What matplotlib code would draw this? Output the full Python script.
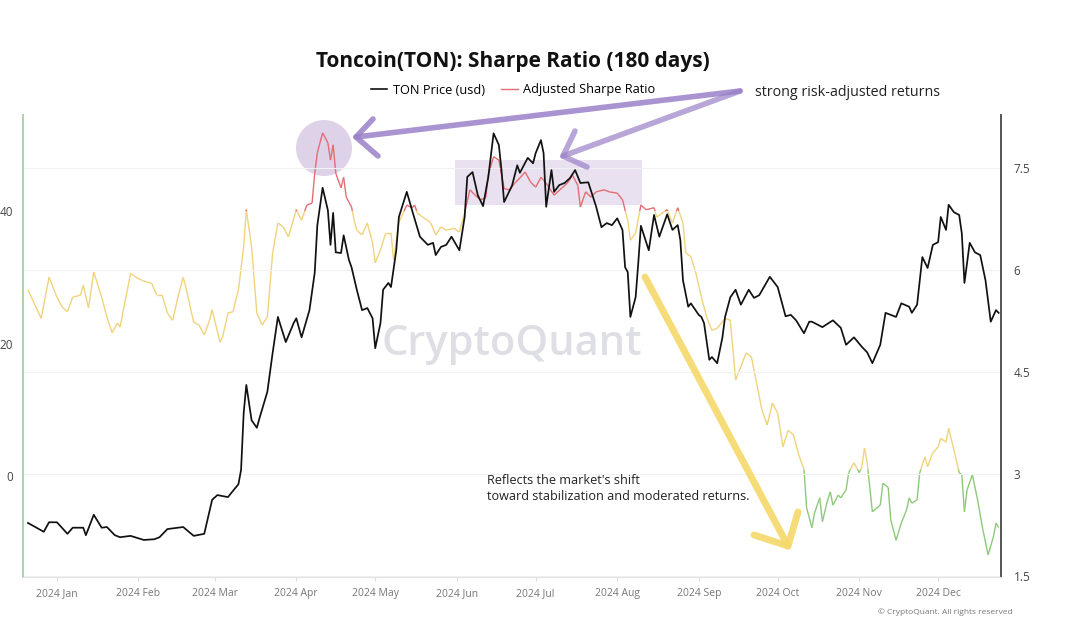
import matplotlib
matplotlib.use('Agg')
import matplotlib.pyplot as plt
import matplotlib.dates as mdates
from matplotlib.collections import LineCollection
from matplotlib.lines import Line2D
from matplotlib.patches import Ellipse, Rectangle
import numpy as np
import pandas as pd

plt.rcParams['font.family'] = ['Open Sans', 'DejaVu Sans']

# ---- data ----
BASE = pd.Timestamp('2024-01-01')

# days from 2024-01-01, TON price in usd
price_day = [-11, -5, -3, 0, 4, 6, 10, 11, 14, 17, 19, 22, 24, 28, 33, 37, 39, 42, 46, 48,
             52, 56, 59, 61, 65, 69, 70, 71, 72, 74, 76, 77, 80, 82, 84, 87, 90, 91, 93, 96,
             98, 99, 101, 103, 104, 105, 106, 108, 109, 111, 112, 114, 116, 118, 120, 121, 123, 124, 126, 127,
             129, 130, 133, 135, 138, 141, 143, 144, 146, 148, 150, 153, 155, 156, 158, 160, 162, 164, 166, 168,
             169, 170, 173, 175, 176, 179, 181, 182, 184, 185, 186, 188, 189, 191, 193, 195, 197, 199, 202, 205,
             207, 209, 211, 213, 215, 216, 217, 218, 220, 221, 222, 225, 227, 229, 232, 234, 236, 237, 238, 240,
             241, 244, 245, 246, 248, 249, 251, 253, 254, 256, 258, 260, 263, 265, 267, 271, 274, 277, 279, 281,
             284, 286, 287, 291, 295, 298, 300, 303, 306, 308, 310, 313, 315, 317, 319, 321, 324, 325, 327, 329,
             331, 333, 335, 336, 338, 339, 341, 343, 344, 345, 347, 349, 351, 353, 355, 357, 358]
price_usd = [2.28, 2.15, 2.29, 2.29, 2.12, 2.21, 2.21, 2.10, 2.40, 2.21, 2.22, 2.10, 2.07, 2.09, 2.03, 2.04, 2.07, 2.19, 2.21, 2.22,
             2.09, 2.12, 2.62, 2.69, 2.66, 2.85, 3.06, 3.90, 4.31, 3.79, 3.68, 3.82, 4.21, 4.78, 5.31, 4.94, 5.22, 5.29, 5.01, 5.41,
             5.96, 6.66, 7.21, 6.88, 6.37, 6.84, 6.26, 6.25, 6.51, 6.15, 6.04, 5.71, 5.41, 5.44, 5.29, 4.85, 5.22, 5.71, 5.81, 5.75,
             6.29, 6.78, 7.15, 6.88, 6.49, 6.37, 6.40, 6.22, 6.34, 6.37, 6.49, 6.29, 6.78, 7.37, 7.44, 7.10, 6.94, 7.37, 8.01, 7.84,
             7.47, 7.00, 7.24, 7.54, 7.43, 7.65, 7.57, 7.72, 7.91, 7.72, 6.93, 7.47, 7.15, 7.25, 7.28, 7.35, 7.47, 7.28, 7.29, 6.93,
             6.63, 6.69, 6.66, 6.76, 6.59, 6.04, 5.97, 5.31, 5.60, 6.10, 6.65, 6.29, 6.81, 6.49, 6.82, 6.59, 6.66, 6.44, 5.85, 5.46,
             5.51, 5.34, 5.31, 5.22, 4.68, 4.72, 4.63, 5.01, 5.31, 5.60, 5.71, 5.49, 5.71, 5.59, 5.63, 5.90, 5.75, 5.32, 5.34, 5.26,
             5.07, 5.24, 5.24, 5.16, 5.26, 5.15, 4.90, 5.01, 4.87, 4.79, 4.63, 4.90, 5.37, 5.34, 5.31, 5.51, 5.46, 5.37, 5.49, 6.19,
             6.03, 6.37, 6.41, 6.78, 6.59, 6.96, 6.85, 6.81, 6.54, 5.81, 6.40, 6.26, 6.22, 5.85, 5.24, 5.41, 5.37]

# days from 2024-01-01, adjusted sharpe ratio
sharpe_day = [-11, -6, -3, 0, 2, 4, 6, 9, 10, 12, 14, 17, 19, 21, 23, 24, 28, 30, 32, 34,
              36, 38, 40, 42, 44, 46, 48, 49, 52, 54, 56, 58, 59, 62, 63, 65, 67, 68, 69, 71,
              72, 74, 76, 78, 80, 82, 84, 86, 88, 91, 93, 95, 97, 98, 99, 101, 103, 104, 105, 106,
              108, 109, 110, 112, 113, 114, 116, 118, 120, 121, 123, 125, 127, 128, 130, 133, 135, 136, 137, 139,
              142, 144, 146, 148, 151, 153, 155, 157, 159, 161, 163, 164, 166, 168, 170, 172, 174, 176, 178, 180,
              182, 184, 186, 187, 189, 192, 194, 196, 198, 199, 201, 203, 205, 208, 210, 213, 215, 217, 218, 220,
              222, 224, 227, 228, 232, 234, 236, 238, 239, 241, 243, 245, 247, 249, 251, 254, 256, 258, 260, 262,
              264, 266, 268, 270, 272, 274, 276, 278, 280, 282, 284, 285, 287, 288, 290, 291, 293, 294, 295, 297,
              298, 300, 301, 303, 305, 306, 307, 308, 310, 313, 314, 316, 317, 319, 321, 323, 324, 325, 327, 328,
              330, 331, 333, 335, 336, 338, 339, 341, 343, 344, 345, 346, 348, 350, 352, 354, 356, 357, 358]
sharpe_ratio = [28.1, 23.8, 30.0, 27.0, 25.5, 24.8, 27.0, 27.3, 28.8, 25.4, 30.8, 27.0, 24.0, 21.6, 23.1, 22.5, 30.6, 30.0, 29.6, 29.3,
                29.1, 27.3, 27.3, 24.6, 23.5, 27.0, 30.0, 28.5, 23.2, 22.8, 21.3, 23.5, 25.1, 20.2, 21.0, 24.6, 24.8, 26.6, 28.1, 34.6,
                40.2, 34.6, 24.6, 22.8, 24.0, 33.7, 38.2, 37.6, 36.1, 40.2, 38.6, 40.9, 41.2, 45.7, 48.8, 51.8, 50.3, 47.7, 50.0, 45.7,
                43.5, 45.1, 42.1, 40.6, 38.6, 37.1, 36.4, 38.2, 35.2, 32.2, 34.1, 36.7, 36.7, 32.6, 38.3, 40.9, 40.5, 40.9, 39.7, 39.1,
                38.3, 36.4, 37.6, 37.1, 37.4, 36.8, 39.8, 43.2, 42.4, 41.7, 42.0, 45.5, 48.2, 47.7, 43.4, 43.2, 44.2, 45.0, 45.9, 44.4,
                43.6, 45.1, 44.2, 43.6, 42.4, 43.5, 44.2, 45.4, 43.9, 40.6, 42.9, 42.1, 42.9, 43.2, 42.9, 42.7, 41.7, 38.6, 35.6, 36.7,
                40.9, 40.2, 40.5, 39.1, 40.2, 38.2, 40.5, 38.2, 33.7, 33.1, 30.5, 27.0, 24.0, 22.0, 22.3, 23.8, 23.5, 14.5, 16.5, 18.6,
                18.0, 14.0, 10.0, 7.7, 11.0, 9.5, 4.4, 6.9, 6.2, 3.2, 1.0, -4.8, -7.8, -5.6, -3.3, -6.9, -3.6, -2.4, -4.4, -2.9,
                -3.3, -2.1, 0.5, 2.0, 0.5, 1.4, 4.2, 2.1, -5.4, -4.4, -1.1, -1.7, -6.6, -9.7, -7.1, -5.1, -3.3, -4.1, -3.6, 0.5,
                2.9, 1.4, 3.5, 4.4, 5.7, 5.1, 7.2, 3.9, 0.5, 0.2, -5.4, -2.1, 0.2, -3.6, -8.1, -11.9, -9.2, -7.1, -7.8]

month_labels = ['2024 Jan', '2024 Feb', '2024 Mar', '2024 Apr', '2024 May', '2024 Jun',
                '2024 Jul', '2024 Aug', '2024 Sep', '2024 Oct', '2024 Nov', '2024 Dec']
left_ticks = [0, 20, 40]
right_ticks = [1.5, 3, 4.5, 6, 7.5]

RED = '#e36d73'
YELLOW = '#f1d37c'
GREEN = '#8cca78'
PURPLE = '#9a80c8'

W, H = 1065, 632


def fig_xy(x, y):
    # figure pixel (from top-left) -> figure fraction
    return x / W, 1 - y / H


def to_num(days):
    return mdates.date2num((BASE + pd.to_timedelta(days, unit='D')).to_numpy())


def sharpe_color(v):
    if v >= 40:
        return RED
    if v < 1:
        return GREEN
    return YELLOW


def colored_segments(x, y, levels=(1, 40)):
    segs, cols = [], []
    for i in range(len(x) - 1):
        x0, y0, x1, y1 = x[i], y[i], x[i + 1], y[i + 1]
        ts = [0.0, 1.0] + [(lv - y0) / (y1 - y0) for lv in levels if (y0 - lv) * (y1 - lv) < 0]
        ts.sort()
        for a, b in zip(ts[:-1], ts[1:]):
            pa = (x0 + a * (x1 - x0), y0 + a * (y1 - y0))
            pb = (x0 + b * (x1 - x0), y0 + b * (y1 - y0))
            segs.append([pa, pb])
            cols.append(sharpe_color((pa[1] + pb[1]) / 2))
    return segs, cols


fig = plt.figure(figsize=(10.65, 6.32), dpi=100)
ax = fig.add_axes([23 / W, 1 - 577 / H, (1001 - 23) / W, (577 - 115) / H])
ax2 = ax.twinx()

# highlight shapes behind the lines
ax.add_patch(Rectangle(fig_xy(455, 205), (642 - 455) / W, (205 - 160) / H,
                       transform=fig.transFigure, facecolor='#e9e1ef', edgecolor='none', zorder=0))
ax.add_patch(Ellipse(fig_xy(324, 148), 56 / W, 56 / H, transform=fig.transFigure,
                     facecolor='#ddd2e8', edgecolor='none', zorder=0))

# watermark
ax.text(0.5, 0.505, 'CryptoQuant', transform=ax.transAxes, ha='center', va='center',
        fontsize=30, fontweight='semibold', color='#dedee5', zorder=0.5)

# sharpe ratio line, coloured by level
sx = to_num(sharpe_day)
segs, cols = colored_segments(list(sx), sharpe_ratio)
ax.add_collection(LineCollection(segs, colors=cols, linewidths=1.0, zorder=2))

# price line
ax2.plot(to_num(price_day), price_usd, color='#111111', linewidth=1.25, zorder=3)

ax.set_xlim(to_num([-12.9])[0], to_num([358.9])[0])
ax.set_ylim(-15.25, 54.5)
ax2.set_ylim(1.485, 8.28)

month_ticks = mdates.date2num([pd.Timestamp(2024, m, 1) for m in range(1, 13)])
ax.set_xticks(month_ticks)
ax.set_xticklabels(month_labels)
ax.set_yticks(left_ticks)
ax2.set_yticks(right_ticks)
ax2.set_yticklabels([f'{t:g}' for t in right_ticks])

ax.tick_params(axis='x', length=3, color='#dddddd', labelsize=7.5, labelcolor='#777777', pad=5)
ax.tick_params(axis='y', length=0, labelsize=8.5, labelcolor='#444444', pad=7)
ax2.tick_params(axis='y', length=0, labelsize=8.5, labelcolor='#444444', pad=9)

ax2.yaxis.grid(True, color='#f1f1f1', linewidth=0.8)
ax2.set_axisbelow(True)

for a in (ax, ax2):
    a.spines['top'].set_visible(False)
    a.spines['bottom'].set_color('#e3e3e3')
ax.spines['right'].set_visible(False)
ax2.spines['left'].set_color('#a6d8a0')
ax2.spines['left'].set_linewidth(1.4)
ax2.spines['right'].set_color('#555555')
ax2.spines['right'].set_linewidth(1.4)
ax.spines['left'].set_visible(False)

# title + legend
fig.text(*fig_xy(513, 61), 'Toncoin(TON): Sharpe Ratio (180 days)', ha='center', va='center',
         fontsize=15, fontweight='bold', color='#111111')
handles = [Line2D([], [], color='#111111', lw=1.2), Line2D([], [], color=RED, lw=1.0)]
fig.legend(handles, ['TON Price (usd)', 'Adjusted Sharpe Ratio'], loc='center',
           bbox_to_anchor=fig_xy(513, 90), ncol=2, frameon=False, fontsize=9.2,
           handlelength=1.3, handletextpad=0.4, columnspacing=1.3)

# purple arrows
def stroke(points, color, lw, alpha):
    xs, ys = zip(*[fig_xy(px, py) for px, py in points])
    fig.add_artist(Line2D(xs, ys, color=color, linewidth=lw, alpha=alpha,
                          solid_capstyle='round', solid_joinstyle='round', zorder=5))

stroke([(740, 91), (356, 137)], PURPLE, 4, 0.85)
stroke([(373, 119), (356, 137), (378, 156)], PURPLE, 4, 0.85)
stroke([(740, 91), (563, 156)], PURPLE, 4, 0.7)
stroke([(575, 131), (563, 156), (587, 167)], PURPLE, 4, 0.7)

# yellow arrow
stroke([(645, 277), (788, 546)], '#f6d96a', 5, 0.9)
stroke([(754, 535), (788, 546), (798, 512)], '#f6d96a', 5, 0.9)

fig.text(*fig_xy(755, 92), 'strong risk-adjusted returns', ha='left', va='center',
         fontsize=10.3, color='#222222')
fig.text(*fig_xy(487, 489), "Reflects the market's shift\ntoward stabilization and moderated returns.",
         ha='left', va='center', fontsize=9.1, color='#222222', linespacing=1.3)
fig.text(*fig_xy(1013, 612), '\u00a9 CryptoQuant. All rights reserved', ha='right', va='center',
         fontsize=6, color='#777777')

fig.savefig('out.png', dpi=100)
